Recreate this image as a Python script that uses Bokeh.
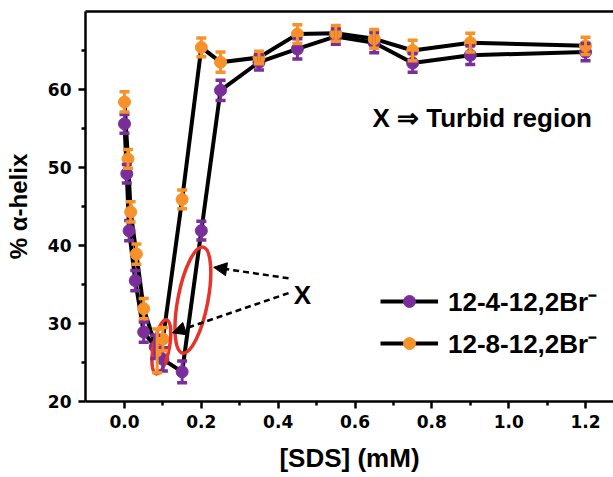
from bokeh.plotting import figure
from bokeh.models import (ColumnDataSource, Whisker, TeeHead, Legend, LegendItem,
                          LinearAxis, FixedTicker, NumeralTickFormatter, Label,
                          Arrow, NormalHead, Range1d)
from bokeh.embed import file_html
from bokeh.resources import INLINE

# ---- data ----
sds_4 = [0.0, 0.006, 0.012, 0.028, 0.05, 0.08, 0.1, 0.15, 0.2, 0.25, 0.35, 0.45, 0.55, 0.65, 0.75, 0.9, 1.2]
helix_4 = [55.6, 49.2, 41.9, 35.5, 28.9, 27.0, 25.4, 23.8, 41.9, 59.9, 63.5, 65.2, 66.8, 66.0, 63.4, 64.4, 64.8]
err_4 = [1.2, 1.2, 1.3, 1.3, 1.3, 1.5, 1.5, 1.4, 1.2, 1.3, 1.0, 1.3, 1.0, 1.3, 1.2, 1.2, 1.1]

sds_8 = [0.0, 0.009, 0.016, 0.031, 0.05, 0.085, 0.1, 0.15, 0.2, 0.25, 0.35, 0.45, 0.55, 0.65, 0.75, 0.9, 1.2]
helix_8 = [58.4, 51.1, 44.3, 38.9, 31.9, 26.5, 28.0, 45.9, 65.4, 63.5, 64.1, 67.1, 67.2, 66.5, 65.0, 66.0, 65.6]
err_8 = [1.3, 1.2, 1.3, 1.3, 1.3, 2.8, 1.5, 1.2, 1.2, 1.3, 0.8, 1.2, 1.0, 1.2, 1.3, 1.2, 1.1]

series_names = ["12-4-12,2Br\u207b", "12-8-12,2Br\u207b"]
x_ticks = [0.0, 0.2, 0.4, 0.6, 0.8, 1.0, 1.2]
x_minor = [0.1, 0.3, 0.5, 0.7, 0.9, 1.1]
y_ticks = [20, 30, 40, 50, 60]
y_minor = [25, 35, 45, 55, 65]

# turbid-region annotations (data coords)
ell_x = [0.178, 0.096]
ell_y = [33.0, 27.0]

PURPLE = "#7a2e9a"
ORANGE = "#f7922b"
RED = "#e8332a"
FONT = "Liberation Sans"

p = figure(width=613, height=477, output_backend="svg", toolbar_location=None,
           x_range=Range1d(-0.1015, 1.2728), y_range=Range1d(20, 70),
           min_border_left=85, min_border_right=0, min_border_top=11, min_border_bottom=76,
           x_axis_label="[SDS] (mM)", y_axis_label="% \u03b1-helix")
p.outline_line_color = None
p.grid.visible = False
p.background_fill_color = "white"
p.border_fill_color = "white"

for ax in (p.xaxis[0], p.yaxis[0]):
    ax.axis_line_width = 2.5
    ax.major_tick_line_width = 2.5
    ax.minor_tick_line_width = 2.5
    ax.major_tick_out = 7
    ax.major_tick_in = 0
    ax.minor_tick_out = 4
    ax.minor_tick_in = 0
    ax.major_label_text_font = "DejaVu Sans"
    ax.major_label_text_font_style = "bold"
    ax.major_label_text_font_size = "17px"
    ax.major_label_text_color = "black"
    ax.axis_label_text_font = FONT
    ax.axis_label_text_font_style = "bold"
    ax.axis_label_text_color = "black"

p.xaxis[0].ticker = FixedTicker(ticks=x_ticks, minor_ticks=x_minor)
p.xaxis[0].formatter = NumeralTickFormatter(format="0.0")
p.xaxis[0].major_label_standoff = 6
p.xaxis[0].axis_label_standoff = 12
p.xaxis[0].axis_label_text_font_size = "26px"
p.yaxis[0].ticker = FixedTicker(ticks=y_ticks, minor_ticks=y_minor)
p.yaxis[0].major_label_standoff = 7
p.yaxis[0].axis_label_standoff = 13
p.yaxis[0].axis_label_text_font_size = "24px"

top = LinearAxis(ticker=FixedTicker(ticks=[]), axis_line_width=2.5,
                 major_tick_line_color=None, minor_tick_line_color=None,
                 major_label_text_font_size="0px", major_label_standoff=0)
p.add_layout(top, "above")

groups = ((sds_4, helix_4, err_4, PURPLE), (sds_8, helix_8, err_8, ORANGE))
sources = []
renderers = []
for xs, ys, es, col in groups:
    src = ColumnDataSource(dict(x=xs, y=ys,
                                lo=[y - e for y, e in zip(ys, es)],
                                hi=[y + e for y, e in zip(ys, es)]))
    sources.append(src)
    lr = p.line("x", "y", source=src, line_color="black", line_width=4)
    renderers.append(lr)

for (xs, ys, es, col), src in zip(groups, sources):
    w = Whisker(source=src, base="x", upper="hi", lower="lo", dimension="height",
                line_color=col, line_width=3, level="glyph",
                upper_head=TeeHead(size=10, line_color=col, line_width=3.5),
                lower_head=TeeHead(size=10, line_color=col, line_width=3.5))
    p.add_layout(w)

scat = []
for (xs, ys, es, col), src in zip(groups, sources):
    sr = p.scatter("x", "y", source=src, size=12, marker="circle",
                   fill_color=col, line_color=col, line_width=1)
    scat.append(sr)

# red ellipses
p.ellipse(x=ell_x, y=ell_y, width=[30, 16], height=[108, 55], angle=-0.19,
          width_units="screen", height_units="screen",
          fill_color=None, line_color=RED, line_width=3.5)

# dashed arrows to the turbid region
for xs_, ys_, xe_, ye_ in ((0.427, 35.8, 0.232, 37.2), (0.427, 33.9, 0.125, 28.8)):
    p.add_layout(Arrow(x_start=xs_, y_start=ys_, x_end=xe_, y_end=ye_,
                       line_color="black", line_width=2.5, line_dash="6 4",
                       end=NormalHead(size=13, fill_color="black", line_color="black", line_width=1)))

p.add_layout(Label(x=0.463, y=33.6, text="X", text_font=FONT, text_font_style="bold",
                   text_font_size="26px", text_align="center", text_baseline="alphabetic",
                   text_color="black"))
p.add_layout(Label(x=0.6455, y=56.4, text="X \u21d2 Turbid region", text_font=FONT,
                   text_font_style="bold", text_font_size="26px", text_align="left",
                   text_baseline="alphabetic", text_color="black"))

legend = Legend(items=[LegendItem(label=series_names[0], renderers=[renderers[0], scat[0]]),
                       LegendItem(label=series_names[1], renderers=[renderers[1], scat[1]])],
                location=(295, 40), glyph_width=58, glyph_height=30, label_height=30,
                label_standoff=10, spacing=6, padding=0, margin=0,
                border_line_color=None, background_fill_alpha=0,
                label_text_font=FONT, label_text_font_style="bold",
                label_text_font_size="26px", label_text_color="black")
p.add_layout(legend)

open("out.html", "w").write(file_html(p, INLINE))
